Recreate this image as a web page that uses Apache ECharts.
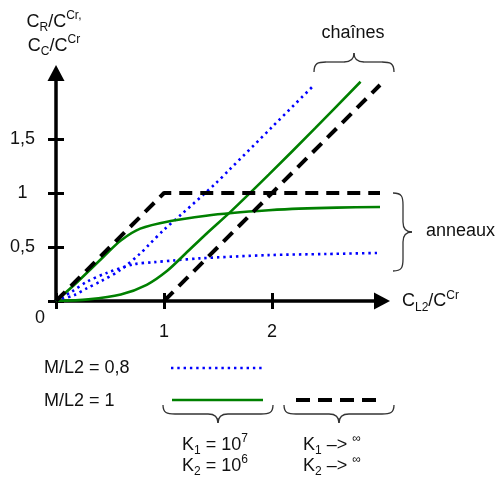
<!DOCTYPE html>
<html><head><meta charset="utf-8">
<script src="https://cdn.jsdelivr.net/npm/echarts/dist/echarts.min.js"></script>
<style>html,body{margin:0;padding:0;background:#fff}#c{width:499px;height:479px}</style>
</head><body><div id="c"></div>
<script>
// ---- data ----
const blueRingX  = [0, 0.15, 0.29, 0.47, 0.72, 0.91, 1.09, 1.33, 1.97, 2.5, 2.99];
const blueRingY  = [0, 0.09, 0.18, 0.26, 0.34, 0.36, 0.375, 0.395, 0.425, 0.435, 0.445];
const blueChainX = [0, 0.17, 0.29, 0.41, 0.6, 0.78, 0.86, 1.0, 1.17, 1.48, 1.6, 2.0, 2.39];
const blueChainY = [0, 0.055, 0.12, 0.18, 0.29, 0.44, 0.52, 0.66, 0.81, 1.09, 1.21, 1.61, 2.0];
const greenRingX  = [0, 0.17, 0.44, 0.6, 0.78, 1.06, 1.39, 1.63, 1.97, 2.25, 2.6, 3.0];
const greenRingY  = [0, 0.15, 0.41, 0.56, 0.67, 0.74, 0.79, 0.815, 0.84, 0.855, 0.865, 0.87];
const greenChainX = [0, 0.3, 0.6, 0.84, 1.03, 1.2, 1.4, 1.62, 1.97, 2.4, 2.82];
const greenChainY = [0, 0.015, 0.06, 0.15, 0.28, 0.44, 0.63, 0.83, 1.17, 1.6, 2.03];
const blackRingX  = [0, 1, 3];
const blackRingY  = [0, 1, 1];
const blackChainX = [1, 3];
const blackChainY = [0, 2];
const xTicks = [1, 2];
const yTicks = [0.5, 1, 1.5];

const pairs = (xs, ys) => xs.map((x, i) => [x, ys[i]]);
const FF = 'Liberation Sans, Arial, sans-serif';
const rich = {
  n:   {fontSize: 18, lineHeight: 24, verticalAlign: 'middle', fontFamily: FF, fill: '#111'},
  sub: {fontSize: 12, lineHeight: 12, verticalAlign: 'bottom', fontFamily: FF, fill: '#111'},
  sup: {fontSize: 12, lineHeight: 18, verticalAlign: 'top', fontFamily: FF, fill: '#111'}
};
function txt(x, y, text, align, va) {
  return {type: 'text', x: x, y: y, z: 10,
    style: {text: text, rich: rich, align: align || 'left', verticalAlign: va || 'middle',
            fontSize: 18, fontFamily: FF, fill: '#111'}};
}
const bStyle = {fill: 'none', stroke: '#333', lineWidth: 1.3};
function cub(p0, c1, c2, p1) {
  return {type: 'bezierCurve', shape: {x1: p0[0], y1: p0[1], cpx1: c1[0], cpy1: c1[1], cpx2: c2[0], cpy2: c2[1], x2: p1[0], y2: p1[1]}, style: bStyle};
}
function seg(p0, p1) {
  return {type: 'line', shape: {x1: p0[0], y1: p0[1], x2: p1[0], y2: p1[1]}, style: bStyle};
}
function hBrace(xa, xb, ye, yb, yt) {
  const xm = (xa + xb) / 2, s = Math.sign(ye - yb);
  return [
    cub([xa, ye], [xa, yb + s * 1], [xa + 4, yb], [xa + 12, yb]),
    seg([xa + 12, yb], [xm - 10, yb]),
    cub([xm - 10, yb], [xm - 4, yb], [xm, yb - (yb - yt) * 0.3], [xm, yt]),
    cub([xm, yt], [xm, yb - (yb - yt) * 0.3], [xm + 4, yb], [xm + 10, yb]),
    seg([xm + 10, yb], [xb - 12, yb]),
    cub([xb - 12, yb], [xb - 4, yb], [xb, yb + s * 1], [xb, ye])
  ];
}
function vBrace(ya, yb2, xe, xb, xt) {
  const ym = (ya + yb2) / 2;
  return [
    cub([xe, ya], [xb - 1, ya], [xb, ya + 4], [xb, ya + 12]),
    seg([xb, ya + 12], [xb, ym - 10]),
    cub([xb, ym - 10], [xb, ym - 4], [xb + (xt - xb) * 0.3, ym], [xt, ym]),
    cub([xt, ym], [xb + (xt - xb) * 0.3, ym], [xb, ym + 4], [xb, ym + 10]),
    seg([xb, ym + 10], [xb, yb2 - 12]),
    cub([xb, yb2 - 12], [xb, yb2 - 4], [xb - 1, yb2], [xe, yb2])
  ];
}

const chart = echarts.init(document.getElementById('c'), null, {renderer: 'canvas'});
const axisCommon = {type: 'value', min: 0, splitLine: {show: false}};
chart.setOption({
  animation: false,
  backgroundColor: '#fff',
  grid: {left: 56, top: 73, width: 326, height: 228, containLabel: false},
  xAxis: [
    Object.assign({}, axisCommon, {max: 326 / 108,
      axisLine: {show: true, onZero: false, symbol: ['none', 'triangle'], symbolSize: [17, 16],
                 lineStyle: {color: '#000', width: 3.5}},
      axisTick: {show: true, inside: false, length: 8, customValues: [0].concat(xTicks), lineStyle: {color: '#000', width: 3}},
      axisLabel: {show: true, margin: 22, customValues: xTicks, fontSize: 18, fontFamily: FF, color: '#111'}}),
    Object.assign({}, axisCommon, {max: 326 / 108, position: 'bottom',
      axisLine: {show: false},
      axisTick: {show: true, inside: true, length: 8, customValues: [0].concat(xTicks), lineStyle: {color: '#000', width: 3}},
      axisLabel: {show: false}})
  ],
  yAxis: [
    Object.assign({}, axisCommon, {max: 228 / 108, position: 'left',
      axisLine: {show: true, onZero: false, symbol: ['none', 'triangle'], symbolSize: [17, 16],
                 lineStyle: {color: '#000', width: 3.5}},
      axisTick: {show: true, inside: false, length: 8, customValues: [0].concat(yTicks), lineStyle: {color: '#000', width: 3}},
      axisLabel: {show: true, margin: 33.5, align: 'center', customValues: yTicks, fontSize: 18, fontFamily: FF, color: '#111',
                  formatter: v => String(v).replace('.', ',')}}),
    Object.assign({}, axisCommon, {max: 228 / 108, position: 'left',
      axisLine: {show: false},
      axisTick: {show: true, inside: true, length: 8, customValues: [0].concat(yTicks), lineStyle: {color: '#000', width: 3}},
      axisLabel: {show: false}})
  ],
  series: [
    {type: 'line', name: 'M/L2 = 0,8 anneaux', data: pairs(blueRingX, blueRingY), smooth: 0.3,
     showSymbol: false, lineStyle: {color: '#0000ff', width: 2.6, type: [2.4, 3.9]}},
    {type: 'line', name: 'M/L2 = 0,8 chaînes', data: pairs(blueChainX, blueChainY), smooth: 0.3,
     showSymbol: false, lineStyle: {color: '#0000ff', width: 2.6, type: [2.4, 3.9]}},
    {type: 'line', name: 'M/L2 = 1 anneaux', data: pairs(greenRingX, greenRingY), smooth: 0.3,
     showSymbol: false, lineStyle: {color: '#008000', width: 2.6}},
    {type: 'line', name: 'M/L2 = 1 chaînes', data: pairs(greenChainX, greenChainY), smooth: 0.3,
     showSymbol: false, lineStyle: {color: '#008000', width: 2.6}},
    {type: 'line', name: 'K -> inf anneaux', data: pairs(blackRingX, blackRingY), showSymbol: false,
     lineStyle: {color: '#000', width: 4, type: [13, 8]}},
    {type: 'line', name: 'K -> inf chaînes', data: pairs(blackChainX, blackChainY), showSymbol: false,
     lineStyle: {color: '#000', width: 4, type: [13, 8]}}
  ],
  graphic: [
    txt(54, 10, '{n|C}{sub|R}{n|/C}{sup|Cr,}\n{n|C}{sub|C}{n|/C}{sup|Cr}', 'center', 'top'),
    txt(402, 301.5, '{n|C}{sub|L2}{n|/C}{sup|Cr}', 'left', 'middle'),
    txt(40, 318, '0', 'center', 'middle'),
    txt(353, 33, 'chaînes', 'center', 'middle'),
    txt(426, 231, 'anneaux', 'left', 'middle'),
    txt(44, 368, 'M/L2 = 0,8', 'left', 'middle'),
    txt(44, 401, 'M/L2 = 1', 'left', 'middle'),
    {type: 'line', shape: {x1: 171, y1: 368, x2: 264, y2: 368}, style: {stroke: '#0000ff', lineWidth: 2.6, lineDash: [2.4, 3.9]}},
    {type: 'line', shape: {x1: 172, y1: 400, x2: 263, y2: 400}, style: {stroke: '#008000', lineWidth: 2.6}},
    {type: 'line', shape: {x1: 296, y1: 400, x2: 378, y2: 400}, style: {stroke: '#000', lineWidth: 4, lineDash: [14, 8]}},
    txt(182, 445, '{n|K}{sub|1}{n| = 10}{sup|7}', 'left', 'middle'),
    txt(182, 466, '{n|K}{sub|2}{n| = 10}{sup|6}', 'left', 'middle'),
    txt(303, 445, '{n|K}{sub|1}{n| –> }{sup|∞}', 'left', 'middle'),
    txt(303, 466, '{n|K}{sub|2}{n| –> }{sup|∞}', 'left', 'middle')
  ].concat(
    hBrace(314, 394, 72, 62, 53),
    vBrace(193, 271, 393, 403, 412),
    hBrace(163, 273, 405, 414, 423),
    hBrace(284, 394, 405, 414, 423)
  )
});
</script></body></html>
